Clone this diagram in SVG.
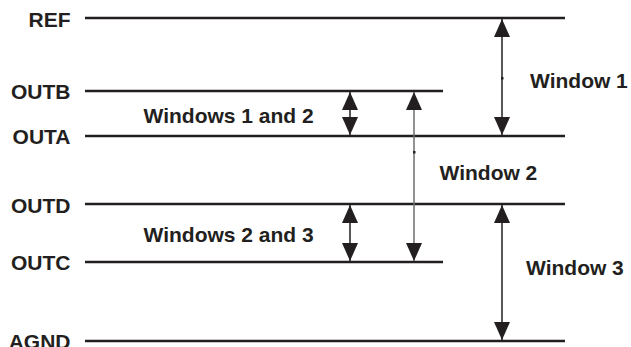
<svg xmlns="http://www.w3.org/2000/svg" width="631" height="347" viewBox="0 0 631 347">
<defs>
<style>
.lbl{font-family:"Liberation Sans",Arial,sans-serif;font-weight:bold;font-size:21px;fill:#231f20}
.rail{stroke:#231f20;stroke-width:2.5;fill:none}
.arr{stroke:#231f20;stroke-width:1.5;fill:none}
.arrg{stroke:#6d6e70;stroke-width:1.5;fill:none}
.hd{fill:#231f20}
</style>
<marker id="ah" viewBox="0 0 18 16" refX="18" refY="8" markerWidth="18" markerHeight="16" markerUnits="userSpaceOnUse" orient="auto-start-reverse">
<path d="M0,0 L18,8 L0,16 Z" class="hd"/>
</marker>
</defs>
<rect width="631" height="347" fill="#fff"/>
<g id="rails">
<g id="REF"><line class="rail" x1="85" y1="18" x2="565" y2="18"/><text class="lbl" x="70.5" y="26.5" text-anchor="end">REF</text></g>
<g id="OUTB"><line class="rail" x1="85" y1="91" x2="443" y2="91"/><text class="lbl" x="70.5" y="98.5" text-anchor="end">OUTB</text></g>
<g id="OUTA"><line class="rail" x1="85" y1="136" x2="565" y2="136"/><text class="lbl" x="70.5" y="144" text-anchor="end">OUTA</text></g>
<g id="OUTD"><line class="rail" x1="85" y1="204" x2="565" y2="204"/><text class="lbl" x="70.5" y="212.5" text-anchor="end">OUTD</text></g>
<g id="OUTC"><line class="rail" x1="85" y1="262" x2="443" y2="262"/><text class="lbl" x="70.5" y="269.5" text-anchor="end">OUTC</text></g>
<g id="AGND"><line class="rail" x1="85" y1="341" x2="565" y2="341"/><text class="lbl" x="70.5" y="349" text-anchor="end">AGND</text></g>
</g>
<g id="connectors">
<line class="arr" x1="502" y1="19" x2="502" y2="135" marker-start="url(#ah)" marker-end="url(#ah)"/>
<line class="arr" x1="350" y1="92" x2="350" y2="135" marker-start="url(#ah)" marker-end="url(#ah)"/>
<line class="arrg" x1="414" y1="92" x2="414" y2="261" marker-start="url(#ah)" marker-end="url(#ah)"/>
<line class="arr" x1="350" y1="205" x2="350" y2="261" marker-start="url(#ah)" marker-end="url(#ah)"/>
<line class="arr" x1="502" y1="205" x2="502" y2="340" marker-start="url(#ah)" marker-end="url(#ah)"/>
<rect x="501" y="77" width="2.5" height="2.5" class="hd"/>
<rect x="413" y="151" width="2.5" height="2.5" class="hd"/>
</g>
<g id="labels">
<text class="lbl" x="143.5" y="122.5">Windows 1 and 2</text>
<text class="lbl" x="143.5" y="242">Windows 2 and 3</text>
<text class="lbl" x="530" y="88">Window 1</text>
<text class="lbl" x="439.5" y="180">Window 2</text>
<text class="lbl" x="526" y="275">Window 3</text>
</g>
</svg>
